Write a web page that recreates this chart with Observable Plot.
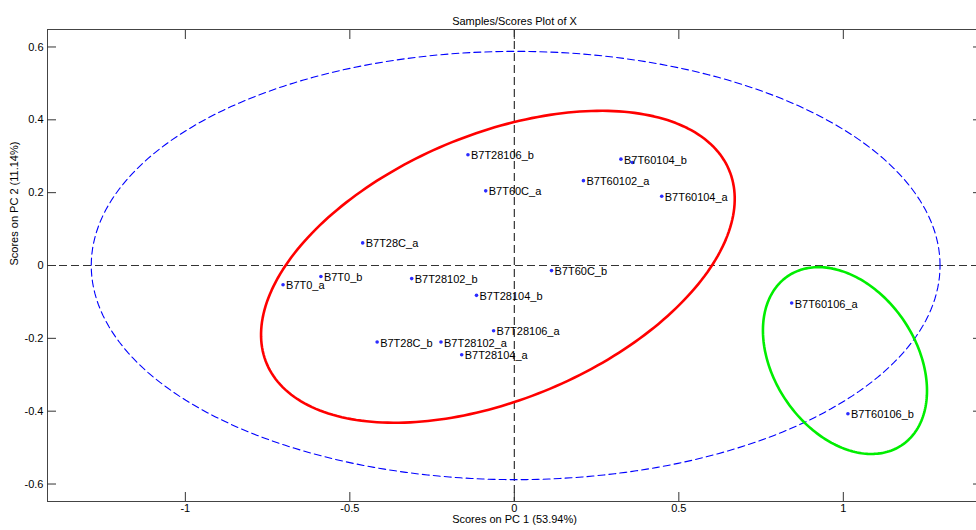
<!DOCTYPE html>
<html>
<head>
<meta charset="utf-8">
<script src="https://cdn.jsdelivr.net/npm/d3@7"></script>
<script src="https://cdn.jsdelivr.net/npm/@observablehq/plot@0.6"></script>
<style>
  html, body { margin: 0; padding: 0; background: #fff; overflow: hidden; }
  #chart { width: 984px; }
  #chart svg { display: block; max-width: none !important; width: 984px; height: 530px; }
</style>
</head>
<body>
<div id="chart"></div>
<script>
// ---- data ----
const sampleNames = ["B7T0_a","B7T0_b","B7T28C_a","B7T28102_b","B7T28104_b","B7T28106_a","B7T28C_b","B7T28102_a","B7T28104_a","B7T60C_b","B7T28106_b","B7T60C_a","B7T60104_b","","B7T60102_a","B7T60104_a","B7T60106_a","B7T60106_b"];
const pc1Scores = [-0.703,-0.588,-0.461,-0.312,-0.115,-0.063,-0.417,-0.223,-0.160,0.113,-0.141,-0.087,0.324,0.359,0.210,0.448,0.843,1.014];
const pc2Scores = [-0.053,-0.030,0.062,-0.036,-0.082,-0.179,-0.210,-0.210,-0.245,-0.014,0.304,0.205,0.292,0.283,0.233,0.190,-0.103,-0.407];

// ellipses: confidence limit (blue), group 1 (red), group 2 (green)
const ellipseIds = ["limit","group1","group2"];
const ellipseCx = [0.004, -0.050, 1.005];
const ellipseCy = [0.000, -0.0035, -0.261];
const ellipseA = [1.29, 0.752, 0.291];
const ellipseB = [0.588, 0.369, 0.208];
const ellipseAngleDeg = [0, 19.37, -47.5];

const xTicks = [-1, -0.5, 0, 0.5, 1];
const yTicks = [-0.6, -0.4, -0.2, 0, 0.2, 0.4, 0.6];

const titleText = "Samples/Scores Plot of X";
const xLabelText = "Scores on PC 1 (53.94%)";
const yLabelText = "Scores on PC 2 (11.14%)";

// ---- build tables ----
const points = sampleNames.map((n, i) => ({name: n, x: pc1Scores[i], y: pc2Scores[i]}));

function ellipsePath(i) {
  const th = ellipseAngleDeg[i] * Math.PI / 180, c = Math.cos(th), s = Math.sin(th);
  const out = [];
  const N = 240;
  for (let k = 0; k <= N; k++) {
    const t = 2 * Math.PI * k / N;
    const u = ellipseA[i] * Math.cos(t), v = ellipseB[i] * Math.sin(t);
    out.push({id: ellipseIds[i], x: ellipseCx[i] + u * c - v * s, y: ellipseCy[i] + u * s + v * c});
  }
  return out;
}
const limitEllipse = ellipsePath(0);
const redEllipse = ellipsePath(1);
const greenEllipse = ellipsePath(2);

const fmt = d => String(d);
const font = "'Liberation Sans', Arial, Helvetica, sans-serif";

const chart = Plot.plot({
  width: 984,
  height: 530,
  marginLeft: 47,
  marginRight: 3,
  marginTop: 29,
  marginBottom: 29,
  style: {fontFamily: font, fontSize: "11px", background: "#fff", color: "#000", overflow: "visible", maxWidth: "none"},
  x: {domain: [-1.419, 1.42]},
  y: {domain: [-0.648, 0.648]},
  marks: [
    Plot.ruleY([0], {stroke: "#333", strokeWidth: 1.2, strokeDasharray: "8,4"}),
    Plot.ruleX([0], {stroke: "#333", strokeWidth: 1.2, strokeDasharray: "8,4"}),
    Plot.line(limitEllipse, {x: "x", y: "y", stroke: "#0000ff", strokeWidth: 1.1, strokeDasharray: "7,4"}),
    Plot.line(redEllipse, {x: "x", y: "y", stroke: "#ff0000", strokeWidth: 2.6}),
    Plot.line(greenEllipse, {x: "x", y: "y", stroke: "#00ee00", strokeWidth: 2.6}),
    Plot.dot(points, {x: "x", y: "y", r: 1.8, fill: "#2b2bff", stroke: null}),
    Plot.text(points, {x: "x", y: "y", text: "name", dx: 3, dy: 1, textAnchor: "start", fill: "#000", fontSize: 11}),
    Plot.frame({stroke: "#444", strokeWidth: 1}),
    // labels
    Plot.axisX(xTicks, {anchor: "bottom", tickSize: 0, tickPadding: 3, tickFormat: fmt, label: null, fontSize: 11}),
    Plot.axisY(yTicks, {anchor: "left", tickSize: 0, tickPadding: 4, tickFormat: fmt, label: null, fontSize: 11}),
    // inward ticks on all four sides
    Plot.axisX(xTicks, {anchor: "bottom", tickSize: 9, dy: -9, tickFormat: () => "", label: null, stroke: "#333"}),
    Plot.axisX(xTicks, {anchor: "top", tickSize: 9, dy: 9, tickFormat: () => "", label: null, stroke: "#333"}),
    Plot.axisY(yTicks, {anchor: "left", tickSize: 9, dx: 9, tickFormat: () => "", label: null, stroke: "#333"}),
    Plot.axisY(yTicks, {anchor: "right", tickSize: 9, dx: -9, tickFormat: () => "", label: null, stroke: "#333"}),
    // titles
    Plot.text([xLabelText], {text: d => d, frameAnchor: "bottom", dy: 21, fontSize: 11, fill: "#000"}),
    Plot.text([yLabelText], {text: d => d, frameAnchor: "left", rotate: -90, dx: -33, fontSize: 11, fill: "#000"}),
    Plot.text([titleText], {text: d => d, frameAnchor: "top", dy: -12, fontSize: 11, fill: "#000"})
  ]
});
document.getElementById("chart").appendChild(chart);
</script>
</body>
</html>
